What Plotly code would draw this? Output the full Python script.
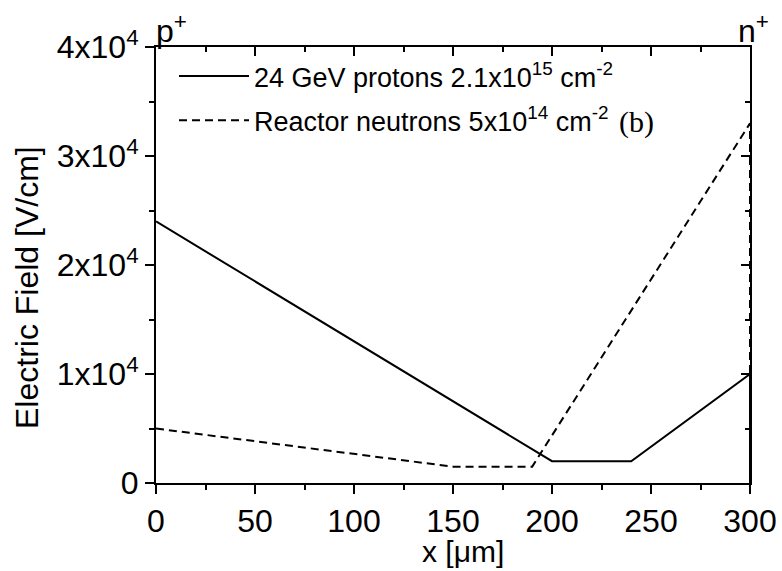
import plotly.graph_objects as go

# data
proton_x = [0, 200, 240, 300, 300]
proton_y = [24000, 2000, 2000, 10000, 0]
neutron_x = [0, 150, 190, 300, 300]
neutron_y = [5000, 1500, 1500, 33000, 0]

proton_name = "24 GeV protons 2.1x10<sup>15</sup> cm<sup>-2</sup>"
neutron_name = "Reactor neutrons 5x10<sup>14</sup> cm<sup>-2</sup>"

ytick_vals = [0, 10000, 20000, 30000, 40000]
ytick_text = ["0", "1x10<sup>4</sup>", "2x10<sup>4</sup>", "3x10<sup>4</sup>", "4x10<sup>4</sup>"]
xtick_vals = [0, 50, 100, 150, 200, 250, 300]

FONT = "Liberation Sans, Arial, sans-serif"
L, R, T, B = 156, 32, 47, 88
W, H = 782, 571
pw, ph = W - L - R, H - T - B


def px(xp):
    return (xp - L) / pw


def py(yp):
    return (H - B - yp) / ph


fig = go.Figure()
fig.add_trace(go.Scatter(x=proton_x, y=proton_y, mode="lines", name=proton_name,
                         legendgroup="a", line=dict(color="black", width=2)))
fig.add_trace(go.Scatter(x=neutron_x, y=neutron_y, mode="lines", name=neutron_name,
                         legendgroup="b", line=dict(color="black", width=2, dash="8px,5px")))
# dummy trace for mirrored axes
fig.add_trace(go.Scatter(x=[None], y=[None], xaxis="x2", yaxis="y2", showlegend=False,
                         hoverinfo="skip"))

common = dict(showgrid=False, zeroline=False, showline=True, linecolor="black",
              linewidth=2, tickcolor="black", tickwidth=2)

fig.update_layout(
    width=W, height=H,
    margin=dict(l=L, r=R, t=T, b=B, autoexpand=False),
    paper_bgcolor="white", plot_bgcolor="white",
    font=dict(family=FONT, size=32, color="black"),
    xaxis=dict(range=[0, 300], tickvals=xtick_vals, ticks="outside", ticklen=9,
               minor=dict(dtick=25, ticks="outside", ticklen=5, tickwidth=2, tickcolor="black"),
               tickfont=dict(size=32), **common),
    yaxis=dict(range=[0, 40000], tickvals=ytick_vals, ticktext=ytick_text,
               ticks="outside", ticklen=9,
               minor=dict(dtick=5000, ticks="outside", ticklen=5, tickwidth=2, tickcolor="black"),
               tickfont=dict(size=32), **common),
    xaxis2=dict(range=[0, 300], overlaying="x", side="top", anchor="y2",
                tickvals=xtick_vals, ticks="inside", ticklen=9, showticklabels=False,
                minor=dict(dtick=25, ticks="inside", ticklen=5, tickwidth=2, tickcolor="black"),
                **common),
    yaxis2=dict(range=[0, 40000], overlaying="y", side="right", anchor="x2",
                tickvals=ytick_vals, ticks="inside", ticklen=9, showticklabels=False,
                minor=dict(dtick=5000, ticks="inside", ticklen=5, tickwidth=2, tickcolor="black"),
                **common),
    showlegend=True,
    legend=dict(x=px(174), y=py(52), xanchor="left", yanchor="top",
                font=dict(family=FONT, size=27), bgcolor="rgba(0,0,0,0)",
                itemwidth=70, tracegroupgap=6),
    annotations=[
        dict(text="p<sup>+</sup>", x=0, y=1, xref="x", yref="paper", xanchor="left",
             yanchor="bottom", showarrow=False, font=dict(size=32), xshift=-2, yshift=-4),
        dict(text="n<sup>+</sup>", x=300, y=1, xref="x", yref="paper", xanchor="right",
             yanchor="bottom", showarrow=False, font=dict(size=32), xshift=21, yshift=-4),
        dict(text="(b)", x=px(636), y=py(122), xref="paper", yref="paper", showarrow=False,
             xanchor="center", yanchor="middle",
             font=dict(family="Liberation Serif, Times New Roman, serif", size=30)),
        dict(text="Electric Field [V/cm]", x=px(27), y=py(288), xref="paper", yref="paper",
             xanchor="center", yanchor="middle",
             showarrow=False, textangle=-90, font=dict(size=32)),
        dict(text="x [\u03bcm]", x=px(463), y=py(551), xref="paper", yref="paper",
             xanchor="center", yanchor="middle", borderpad=0,
             showarrow=False, font=dict(size=30)),
    ],
)

fig.write_html("out.html")
